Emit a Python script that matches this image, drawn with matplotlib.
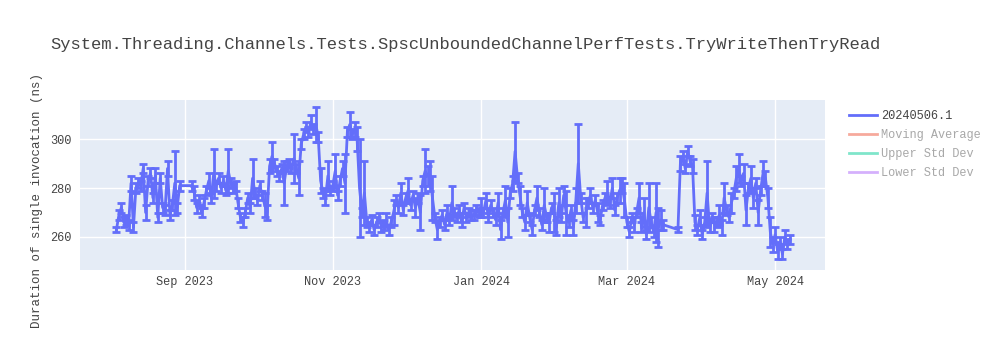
import pandas as pd
import matplotlib
matplotlib.use("Agg")
import matplotlib.pyplot as plt
import matplotlib.dates as mdates
from matplotlib.lines import Line2D

# Daily benchmark results (ns) with std-dev error
aug_start = "2023-08-04"
aug_vals = [263, 269, 272, 266, 267, 265, 282, 264, 280, 282, 281, 288, 270, 283,
            286, 276, 285, 268, 284, 272, 271, 288, 269, 273, 282, 272, 281]
aug_errs = [1, 2, 2, 2, 2, 2, 3, 2, 2, 2, 2, 2, 3, 2,
            2, 2, 3, 2, 2, 2, 2, 3, 2, 2, 13, 2, 2]

sep_start = "2023-09-04"
sep_vals = [281, 278, 272, 275, 270, 274, 279, 283, 276, 286, 281, 284, 280, 283,
            279, 287, 282, 280, 281, 274, 268, 266, 270, 276, 272, 284, 278]
sep_errs = [2, 3, 2, 2, 2, 2, 2, 3, 2, 10, 2, 2, 2, 2,
            2, 9, 2, 2, 2, 2, 2, 2, 2, 2, 2, 8, 2]

oct_start = "2023-10-01"
oct_vals = [275, 281, 277, 273, 270, 289, 293, 290, 287, 285, 288, 282, 289, 290, 288, 292,
            288, 284, 298, 302, 305, 303, 307, 304, 306, 301, 283, 278, 276, 285, 279]
oct_errs = [2, 2, 2, 5, 3, 3, 6, 2, 2, 2, 2, 9, 2, 2, 2, 10,
            2, 7, 2, 2, 2, 2, 3, 2, 7, 2, 5, 2, 3, 6, 2]

nov_start = "2023-11-01"
nov_vals = [281, 287, 277, 283, 288, 282, 303, 306, 302, 304, 300, 280, 270, 278, 266,
            264, 267, 263, 266, 268, 264, 265, 267, 263, 266, 270, 275, 272, 278, 271]
nov_errs = [2, 7, 2, 2, 3, 12, 2, 5, 2, 3, 5, 20, 2, 13, 2,
            2, 2, 2, 2, 2, 2, 2, 3, 2, 2, 5, 2, 2, 4, 2]

dec_start = "2023-12-01"
dec_vals = [276, 279, 273, 277, 272, 276, 270, 283, 287, 285, 285, 276, 268, 263, 266, 269,
            265, 270, 267, 274, 270, 268, 271, 266, 272, 268, 270, 269, 269, 271, 270]
dec_errs = [2, 5, 2, 2, 4, 2, 7, 2, 9, 4, 6, 9, 2, 4, 2, 2,
            2, 3, 2, 7, 2, 2, 2, 2, 2, 2, 2, 2, 2, 2, 2]

jan_start = "2024-01-01"
jan_vals = [272, 270, 275, 268, 273, 270, 267, 274, 263, 270, 275, 266, 278, 282, 295, 284,
            277, 270, 266, 274, 268, 263, 271, 276, 270, 265, 273, 268, 266, 272, 270]
jan_errs = [4, 2, 3, 2, 2, 2, 2, 4, 4, 2, 6, 6, 2, 3, 12, 2,
            4, 2, 3, 5, 2, 2, 2, 5, 2, 2, 7, 2, 4, 2, 8]

feb_start = "2024-02-01"
feb_vals = [264, 274, 268, 277, 270, 266, 271, 264, 275, 290, 276, 268, 270, 274, 277,
            272, 275, 270, 267, 273, 276, 278, 274, 280, 271, 276, 279, 281, 275]
feb_errs = [3, 6, 2, 4, 9, 2, 2, 3, 5, 16, 2, 2, 6, 2, 3,
            2, 2, 4, 2, 2, 2, 5, 2, 4, 2, 2, 5, 3, 7]

mar_start = "2024-03-01"
mar_vals = [266, 262, 268, 265, 270, 276, 264, 270, 261, 272, 266, 262, 270, 264, 267, 265]
mar_errs = [2, 2, 2, 3, 2, 6, 2, 6, 2, 10, 2, 2, 12, 8, 4, 2]

spring_start = "2024-03-22"
spring_vals = [263, 290, 293, 288, 295, 291, 289, 266, 263, 268,
               261, 266, 278, 264, 268, 265, 266, 269, 264, 276, 271, 268, 274, 278, 284,
               288, 283, 286, 271, 280, 284, 276, 282, 270, 279, 286, 284, 276, 262, 257,
               261, 254, 258, 253, 260, 257, 259]
spring_errs = [1, 3, 2, 2, 2, 2, 3, 3, 2, 3,
               2, 2, 13, 2, 2, 3, 2, 4, 3, 6, 2, 2, 4, 2, 5,
               6, 2, 4, 6, 2, 5, 4, 2, 5, 2, 5, 3, 4, 6, 3,
               3, 3, 2, 2, 3, 2, 2]

segments = [
    (aug_start, aug_vals, aug_errs),
    (sep_start, sep_vals, sep_errs),
    (oct_start, oct_vals, oct_errs),
    (nov_start, nov_vals, nov_errs),
    (dec_start, dec_vals, dec_errs),
    (jan_start, jan_vals, jan_errs),
    (feb_start, feb_vals, feb_errs),
    (mar_start, mar_vals, mar_errs),
    (spring_start, spring_vals, spring_errs),
]

frames = []
for start, vals, errs in segments:
    frames.append(pd.DataFrame({
        "date": pd.date_range(start, periods=len(vals), freq="D"),
        "value": vals,
        "err": errs,
    }))
df = pd.concat(frames, ignore_index=True)

title = "System.Threading.Channels.Tests.SpscUnboundedChannelPerfTests.TryWriteThenTryRead"
ylabel = "Duration of single invocation (ns)"
series_name = "20240506.1"
hidden_series = ["Moving Average", "Upper Std Dev", "Lower Std Dev"]
hidden_colors = ["#EF553B", "#00CC96", "#AB63FA"]

plt.rcParams["font.family"] = ["Liberation Mono", "DejaVu Sans Mono"]

fig = plt.figure(figsize=(10, 3.5), dpi=100)
ax = fig.add_axes([0.08, 1 - 270 / 350, 0.745, 170 / 350])
ax.set_facecolor("#E5ECF6")
for s in ax.spines.values():
    s.set_visible(False)

ax.errorbar(df["date"], df["value"], yerr=df["err"], color="#636efa",
            linewidth=2, elinewidth=2, capsize=3, capthick=2, zorder=3)

ax.set_xlim(pd.Timestamp("2023-07-20"), pd.Timestamp("2024-05-21 12:00"))
ax.set_ylim(246.5, 316)
ax.set_yticks([260, 280, 300])
ax.xaxis.set_major_locator(mdates.MonthLocator(bymonth=[1, 3, 5, 7, 9, 11]))
ax.xaxis.set_major_formatter(mdates.DateFormatter("%b %Y"))
ax.grid(True, color="white", linewidth=1, zorder=0)
ax.set_axisbelow(True)
ax.tick_params(axis="y", length=0, labelsize=8.6, colors="#444444", pad=6)
ax.tick_params(axis="x", length=0, labelsize=8.6, colors="#444444", pad=4)

fig.text(0.05, 1 - 45 / 350, title, fontsize=12.3, color="#444444", va="center", ha="left")
fig.text(0.037, 1 - 201 / 350, ylabel, fontsize=9.0, color="#444444",
         rotation=90, va="center", ha="center")

handles = [Line2D([], [], color="#636efa", linewidth=2)]
for c in hidden_colors:
    handles.append(Line2D([], [], color=c, linewidth=2, alpha=0.5))
leg = fig.legend(handles, [series_name] + hidden_series, loc="upper left",
                 bbox_to_anchor=(0.838, 0.717), frameon=False, fontsize=8.6,
                 handlelength=2.4, handletextpad=0.3, labelspacing=0.6)
for i, t in enumerate(leg.get_texts()):
    t.set_color("#444444" if i == 0 else "#a8a8a8")

fig.savefig("out.png", dpi=100)
